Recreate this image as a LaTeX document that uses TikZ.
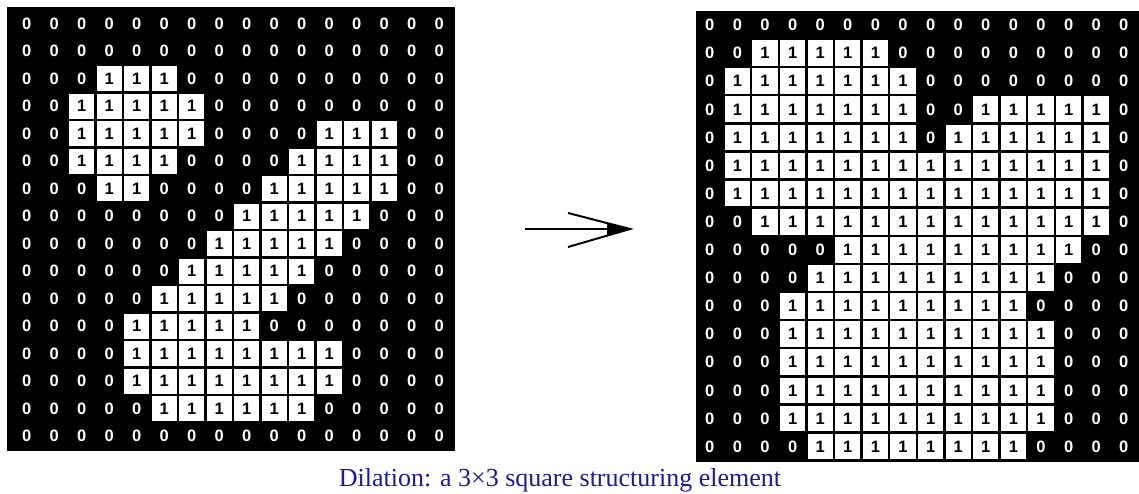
\documentclass[tikz,border=0pt]{standalone}
\usepackage{fontspec}
\setmainfont{Liberation Serif}
\newfontfamily\cellfont{Liberation Sans}
\definecolor{capblue}{RGB}{28,28,150}
\begin{document}
\begin{tikzpicture}[x=1pt,y=-1pt,
  zerocell/.style={text=white, inner sep=0pt, font=\cellfont\bfseries\fontsize{16.5}{16.5}\selectfont},
  onecell/.style={fill=white, text=black, inner sep=0pt, font=\cellfont\bfseries\fontsize{16.5}{16.5}\selectfont},
  gridbg/.style={fill=black},
  arrowline/.style={line width=1.6pt, black},
  barb/.style={line width=2pt, black, line join=miter},
  caption/.style={text=capblue, inner sep=0pt, anchor=base, font=\fontsize{26}{26}\selectfont}
]
\useasboundingbox (0,0) rectangle (1139,494);
\fill[white] (0,0) rectangle (1139,494);
% backgrounds
\fill[gridbg] (7,7) rectangle (455,451);
\fill[gridbg] (696,11) rectangle (1139,462);
% left grid (original image)
\foreach \r/\a/\b/\c/\d in {0/99/-1/99/-1, 1/99/-1/99/-1, 2/3/5/99/-1, 3/2/6/99/-1,
  4/2/6/11/13, 5/2/5/10/13, 6/3/4/9/13, 7/8/12/99/-1, 8/7/11/99/-1, 9/6/10/99/-1,
  10/5/9/99/-1, 11/4/8/99/-1, 12/4/11/99/-1, 13/4/11/99/-1, 14/5/10/99/-1, 15/99/-1/99/-1}{
  \foreach \k in {0,...,15}{
    \pgfmathtruncatemacro\v{or(and(\k>=\a,\k<=\b),and(\k>=\c,\k<=\d))}
    \ifnum\v=1
      \node[onecell, minimum width=25.1pt, minimum height=25.1pt] (L-\r-\k) at ({13+27.5*(\k+0.5)},{10+27.5*(\r+0.5)}) {1};
    \else
      \node[zerocell] (L-\r-\k) at ({13+27.5*(\k+0.5)},{10+27.5*(\r+0.5)}) {0};
    \fi
  }
}
% right grid (dilated image)
\foreach \r/\a/\b/\c/\d in {0/99/-1/99/-1, 1/2/6/99/-1, 2/1/7/99/-1, 3/1/7/10/14,
  4/1/7/9/14, 5/1/14/99/-1, 6/1/14/99/-1, 7/2/14/99/-1, 8/5/13/99/-1, 9/4/12/99/-1,
  10/3/11/99/-1, 11/3/12/99/-1, 12/3/12/99/-1, 13/3/12/99/-1, 14/3/12/99/-1, 15/4/11/99/-1}{
  \foreach \k in {0,...,15}{
    \pgfmathtruncatemacro\v{or(and(\k>=\a,\k<=\b),and(\k>=\c,\k<=\d))}
    \ifnum\v=1
      \node[onecell, minimum width=25.2pt, minimum height=25.7pt] (R-\r-\k) at ({696+27.6*(\k+0.5)},{11+28.1*(\r+0.5)}) {1};
    \else
      \node[zerocell] (R-\r-\k) at ({696+27.6*(\k+0.5)},{11+28.1*(\r+0.5)}) {0};
    \fi
  }
}
% arrow
\coordinate (arrowstart) at (525,229);
\coordinate (arrowtip) at (630,229);
\coordinate (barbtop) at (568,213);
\coordinate (barbbot) at (568,247);
\draw[arrowline] (arrowstart) -- (arrowtip);
\draw[barb] (barbtop) -- (arrowtip) -- (barbbot);
\fill[black] (607,222.5) -- (arrowtip) -- (607,235.5) -- cycle;
% caption
\node[caption] (cap) at (560,486) {Dilation: a 3×3 square structuring element};
\end{tikzpicture}
\end{document}
